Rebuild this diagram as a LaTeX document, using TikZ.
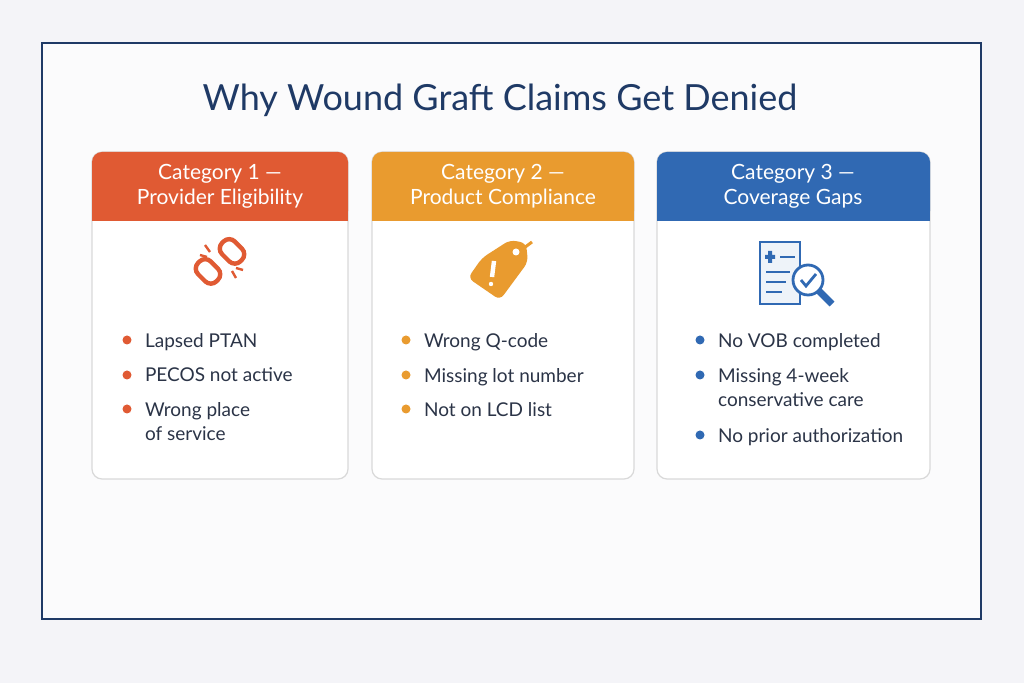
\documentclass[tikz,border=0pt]{standalone}
\usepackage{fontspec}
\setmainfont{Lato}
\usetikzlibrary{positioning}
\definecolor{navy}{HTML}{1F3A66}
\definecolor{catA}{HTML}{E05A33}
\definecolor{catB}{HTML}{E99B2F}
\definecolor{catC}{HTML}{3069B3}
\definecolor{txt}{HTML}{2B3447}
\definecolor{bg}{HTML}{F4F4F8}
\tikzstyle{card}=[draw=black!15, fill=white, rounded corners=5pt, line width=0.6pt]
\tikzstyle{head}=[text=white, font=\fontsize{10.5}{12.5}\selectfont, align=center]
\tikzstyle{item}=[text=txt, font=\fontsize{9.5}{12}\selectfont, anchor=west, align=left]
\begin{document}
\begin{tikzpicture}[x=0.5pt, y=-0.5pt]
                    \fill[bg] (0,0) rectangle (1024,683);
                    \draw[navy, line width=1.2pt, fill=white!60!bg] (42,43) rectangle (981,619);
                    \node[text=navy, font=\fontsize{18}{20}\selectfont] (title) at (500,100) {Why Wound Graft Claims Get Denied};
                    % cards
                    \foreach \l/\r/\c/\n in {92/348/catA/1, 372/634/catB/2, 657/930/catC/3} {
                        \draw[card] (\l,152) rectangle (\r,479);
                        \fill[\c, rounded corners=5pt] (\l,152) rectangle (\r,221);
                        \fill[\c] (\l,195) rectangle (\r,221);
                    }
                    \node[head] (h1) at (220,186) {Category 1 —\\Provider Eligibility};
                    \node[head] (h2) at (503,186) {Category 2 —\\Product Compliance};
                    \node[head] (h3) at (793,186) {Category 3 —\\Coverage Gaps};
                    % icon 1: broken chain
                    \begin{scope}[catA, line width=2.2pt]
                        \draw[rotate around={-45:(208,270)}, rounded corners=4pt] (196,262) rectangle (222,280);
                        \draw[rotate around={-45:(232,250)}, rounded corners=4pt] (220,242) rectangle (246,260);
                        \draw[line width=1.2pt] (205,245)--(210,252) (200,255)--(207,257) (236,278)--(232,271) (243,270)--(236,268);
                    \end{scope}
                    % icon 2: tag
                    \begin{scope}[catB]
                        \fill[rounded corners=3pt] (468,278)--(500,300)--(528,262)--(526,243)--(510,240)--(482,258)--cycle;
                        \draw[line width=1.5pt] (520,251)--(532,242);
                        \fill[white] (516,252) circle (3.5);
                        \draw[white, line width=2.2pt] (494,261)--(492,277);
                        \fill[white] (491,284) circle (2.2);
                    \end{scope}
                    % icon 3: document and lens
                    \begin{scope}[catC, line width=1.4pt]
                        \draw[fill=catC!8] (760,242) rectangle (800,304);
                        \fill (765,255) rectangle (775,259) (768,251) rectangle (772,263);
                        \draw (780,257)--(795,257) (766,272)--(790,272) (766,282)--(786,282) (766,292)--(782,292);
                        \draw[fill=white] (808,280) circle (15);
                        \draw (801,280)--(806,286)--(816,274);
                        \draw[line width=3.5pt] (819,291)--(832,304);
                    \end{scope}
                    % bullets
                    \foreach \x/\c/\y/\t in {127/catA/340/Lapsed PTAN, 127/catA/375/PECOS not active, 127/catA/409/Wrong place\\of service,
                                            406/catB/340/Wrong Q-code, 406/catB/375/Missing lot number, 406/catB/409/Not on LCD list,
                                            700/catC/340/No VOB completed, 700/catC/375/Missing 4-week\\conservative care, 700/catC/435/No prior authorization} {
                        \fill[\c] (\x,\y) circle (4.5);
                        \node[item, anchor=north west] at (\x+11,\y-14) {\t};
                    }
                \end{tikzpicture}
\end{document}
